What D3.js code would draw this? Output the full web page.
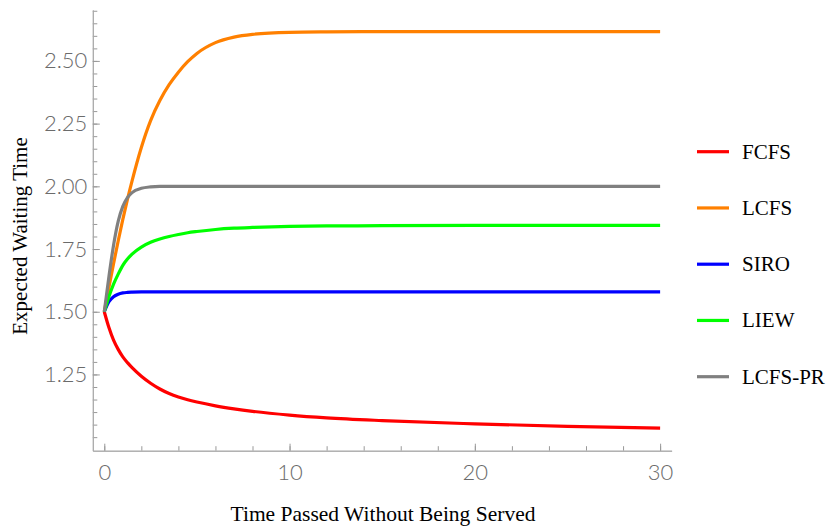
<!DOCTYPE html>
<html>
<head>
<meta charset="utf-8">
<script src="https://cdn.jsdelivr.net/npm/d3@7"></script>
<style>
  body { margin: 0; background: #fff; }
  svg { display: block; }
  .tick text { font-family: Lato, "Open Sans", sans-serif; font-weight: 300; fill: #6b6b6b; }
  .serif { font-family: "Liberation Serif", "DejaVu Serif", serif; fill: #000; }
</style>
</head>
<body>
<svg width="828" height="526"></svg>
<script>
// time grid shared by all curves
var times = [0, 0.25, 0.5, 0.75, 1, 1.25, 1.5, 2, 2.5, 3, 3.5, 4, 4.5, 5, 6, 7, 8, 10, 12, 15, 20, 25, 30]

var fcfs   = [1.5, 1.437, 1.387, 1.35, 1.32, 1.297, 1.277, 1.243, 1.215, 1.192, 1.174, 1.16, 1.149, 1.14, 1.125, 1.113, 1.103, 1.088, 1.077, 1.066, 1.053, 1.043, 1.036]
var lcfs   = [1.5, 1.597, 1.692, 1.782, 1.868, 1.948, 2.022, 2.155, 2.262, 2.342, 2.405, 2.455, 2.497, 2.53, 2.573, 2.595, 2.606, 2.614, 2.616, 2.617, 2.617, 2.617, 2.617]
var siro   = [1.5, 1.54, 1.56, 1.57, 1.575, 1.577, 1.578, 1.579, 1.579, 1.579, 1.579, 1.579, 1.579, 1.579, 1.579, 1.579, 1.579, 1.579, 1.579, 1.579, 1.579, 1.579, 1.579]
var liew   = [1.5, 1.56, 1.61, 1.65, 1.685, 1.71, 1.73, 1.758, 1.777, 1.79, 1.8, 1.808, 1.815, 1.82, 1.828, 1.833, 1.836, 1.84, 1.842, 1.843, 1.844, 1.844, 1.844]
var lcfspr = [1.5, 1.64, 1.765, 1.86, 1.92, 1.955, 1.975, 1.992, 1.998, 2.0, 2.0, 2.0, 2.0, 2.0, 2.0, 2.0, 2.0, 2.0, 2.0, 2.0, 2.0, 2.0, 2.0]

var names = ["FCFS", "LCFS", "SIRO", "LIEW", "LCFS-PR"]
var colors = ["#ff0000", "#ff8000", "#0000ff", "#00ff00", "#808080"]
var series = [fcfs, lcfs, siro, liew, lcfspr]

var xMajor = [0, 10, 20, 30]
var xMinor = d3.range(0, 31, 2)
var yMajor = [1.25, 1.5, 1.75, 2.0, 2.25, 2.5]
var yMinor = d3.range(20, 55).map(d => d * 0.05)

var svg = d3.select("svg")

var x = d3.scaleLinear().domain([-0.62, 30.62]).range([92.8, 671.6])
var y = d3.scaleLinear().domain([0.946, 2.703]).range([450.7, 10])

function styleAxis(g) {
  g.select(".domain").attr("stroke", "#aaa").attr("stroke-width", 1)
  g.selectAll(".tick line").attr("stroke", "#999").attr("stroke-width", 1)
}

// minor ticks
svg.append("g")
  .attr("transform", "translate(0," + y.range()[0] + ")")
  .call(d3.axisBottom(x).tickValues(xMinor).tickSizeInner(-4.5).tickSizeOuter(0).tickFormat(""))
  .call(styleAxis)
svg.append("g")
  .attr("transform", "translate(" + x.range()[0] + ",0)")
  .call(d3.axisLeft(y).tickValues(yMinor).tickSizeInner(-4.5).tickSizeOuter(0).tickFormat(""))
  .call(styleAxis)

// major ticks with labels
svg.append("g")
  .attr("transform", "translate(0," + y.range()[0] + ")")
  .call(d3.axisBottom(x).tickValues(xMajor).tickSizeInner(-7).tickSizeOuter(0).tickPadding(14).tickFormat(d3.format("d")))
  .call(styleAxis)
  .call(g => g.selectAll(".tick text").attr("font-size", 22))
svg.append("g")
  .attr("transform", "translate(" + x.range()[0] + ",0)")
  .call(d3.axisLeft(y).tickValues(yMajor).tickSizeInner(-7).tickSizeOuter(0).tickPadding(5.5).tickFormat(d3.format(".2f")))
  .call(styleAxis)
  .call(g => g.selectAll(".tick text").attr("font-size", 22))

// curves
var line = d3.line()
  .x((d, i) => x(times[i]))
  .y(d => y(d))
  .curve(d3.curveMonotoneX)

svg.append("g").selectAll("path")
  .data(series)
  .join("path")
  .attr("d", line)
  .attr("fill", "none")
  .attr("stroke", (d, i) => colors[i])
  .attr("stroke-width", 3.2)

// legend
var legend = svg.append("g").selectAll("g")
  .data(names)
  .join("g")
  .attr("transform", (d, i) => "translate(697," + (151.7 + i * 56.25) + ")")
legend.append("line")
  .attr("x1", 0).attr("x2", 32)
  .attr("stroke", (d, i) => colors[i])
  .attr("stroke-width", 3.2)
legend.append("text")
  .attr("class", "serif")
  .attr("x", 45)
  .attr("y", 7)
  .style("font-size", "21px")
  .text(d => d)

// axis titles
svg.append("text")
  .attr("class", "serif")
  .attr("x", 383).attr("y", 521)
  .attr("text-anchor", "middle")
  .style("font-size", "21.5px")
  .text("Time Passed Without Being Served")

svg.append("text")
  .attr("class", "serif")
  .attr("transform", "translate(27,236) rotate(-90)")
  .attr("text-anchor", "middle")
  .style("font-size", "21px")
  .text("Expected Waiting Time")
</script>
</body>
</html>
